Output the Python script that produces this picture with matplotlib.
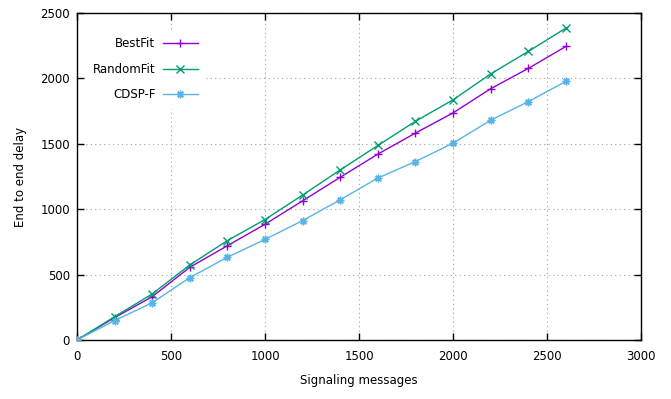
#gnuplot風の折れ線グラフ（3系列）を描画

import numpy as np
import matplotlib.pyplot as plt

#データ
messages = [0, 200, 400, 600, 800, 1000, 1200, 1400, 1600, 1800, 2000, 2200, 2400, 2600]
best_fit = [0, 171, 331, 556, 721, 885, 1064, 1244, 1421, 1582, 1736, 1921, 2076, 2244]
random_fit = [0, 178, 352, 574, 760, 921, 1108, 1300, 1487, 1672, 1836, 2034, 2206, 2384]
cdsp_f = [0, 148, 285, 477, 633, 769, 913, 1072, 1238, 1364, 1505, 1680, 1822, 1977]

labels = ['BestFit', 'RandomFit', 'CDSP-F']
colors = ['#9400d3', '#009e73', '#56b4e9']
markers = ['+', 'x', (8, 2, 0)]

x_ticks = [0, 500, 1000, 1500, 2000, 2500, 3000]
y_ticks = [0, 500, 1000, 1500, 2000, 2500]

plt.rcParams['font.family'] = ['DejaVu Sans']
plt.rcParams['font.size'] = 8.5

fig = plt.figure(figsize=(6.71, 3.99), dpi=100)
ax = fig.add_axes([0.1148, 0.1479, 0.8405, 0.8195])

#各系列をプロット
for data, label, c, m in zip([best_fit, random_fit, cdsp_f], labels, colors, markers):
    ax.plot(messages, data, color=c, marker=m, markersize=5.5, markeredgewidth=1.0,
            linewidth=1.0, label=label, zorder=3)

ax.set_xlim(0, 3000)
ax.set_ylim(0, 2500)
ax.set_xticks(x_ticks)
ax.set_yticks(y_ticks)

#目盛りは内向き，上と右にも
ax.tick_params(direction='in', length=5, width=1, top=True, right=True, colors='black')
ax.tick_params(axis='x', pad=7)
ax.tick_params(axis='y', pad=5)
for s in ax.spines.values():
    s.set_linewidth(1.0)

#点線のグリッド
ax.grid(True, color='#a0a0a0', linestyle=(0, (1, 3)), linewidth=0.8, zorder=0)
ax.set_axisbelow(True)

ax.set_xlabel('Signaling messages', labelpad=8)
ax.set_ylabel('End to end delay', labelpad=10)

#凡例（ラベルを左，線を右）
leg = ax.legend(loc='upper left', bbox_to_anchor=(0.005, 0.965), markerfirst=False,
                frameon=True, fancybox=False, framealpha=1, edgecolor='white',
                handlelength=3.0, labelspacing=1.05, handletextpad=0.6,
                borderpad=0.6)
leg.set_zorder(5)

fig.savefig('out.png', dpi=100)
